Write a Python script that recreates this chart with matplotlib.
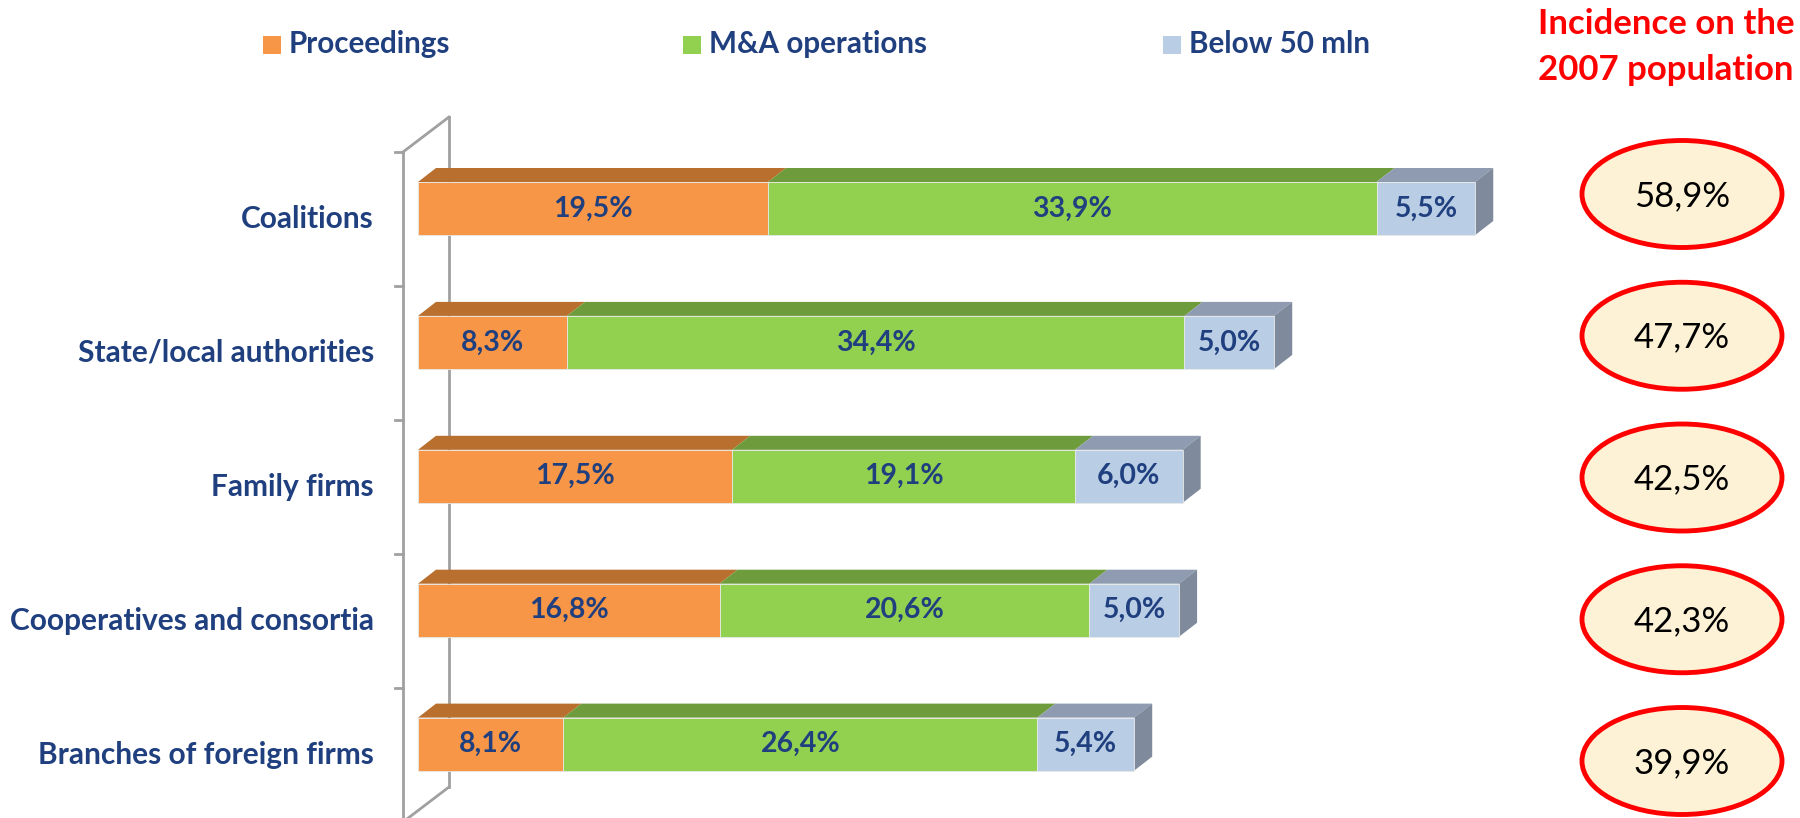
import matplotlib.pyplot as plt
from matplotlib.patches import Polygon, Ellipse, Rectangle
import numpy as np

plt.rcParams['font.family'] = ['Lato', 'DejaVu Sans']

categories = ["Coalitions", "State/local authorities", "Family firms",
              "Cooperatives and consortia", "Branches of foreign firms"]
series_names = ["Proceedings", "M&A operations", "Below 50 mln"]
proceedings = [19.5, 8.3, 17.5, 16.8, 8.1]
ma_operations = [33.9, 34.4, 19.1, 20.6, 26.4]
below_50 = [5.5, 5.0, 6.0, 5.0, 5.4]
incidence = [58.9, 47.7, 42.5, 42.3, 39.9]

front_cols = ["#F79646", "#92D050", "#B9CDE5"]
top_cols = ["#B9702F", "#6E9C3C", "#8E9BB0"]
side_col = "#7F8A9C"
txt_blue = "#1F3F7F"
wall_col = "#A0A0A0"

# pixel layout helpers (figure is 1800x818 px)
S = 17.95   # px per percent
R = 133.9   # px per category
X0, Y0 = 418, 208.5

def px(x):
    return (x - X0) / S

def py(y):
    return (y - Y0) / R

fig = plt.figure(figsize=(18, 8.18), dpi=100)
ax = fig.add_axes([0, 0, 1, 1])
ax.set_xlim(px(0), px(1800))
ax.set_ylim(py(818), py(0))
ax.axis("off")

# back wall of the 3D chart
wx0, wx1 = px(403), px(449)
ax.plot([wx0, wx0], [py(152), py(830)], color=wall_col, lw=2, clip_on=False)
ax.plot([wx1, wx1], [py(117), py(787)], color=wall_col, lw=2)
ax.plot([wx0, wx1], [py(152), py(117)], color=wall_col, lw=2)
ax.plot([wx1, wx0], [py(787), py(822)], color=wall_col, lw=2)
for k in range(len(categories)):
    ty = py(152) + k
    ax.plot([px(395), wx0], [ty, ty], color=wall_col, lw=2)

data = np.array([proceedings, ma_operations, below_50])
bar_h = 53 / R
dx, dy = 18 / S, 14 / R

for i in range(len(categories)):
    left = 0
    top = i - bar_h / 2
    bot = i + bar_h / 2
    for s in range(3):
        v = data[s, i]
        right = left + v
        ax.barh(i, v, left=left, height=bar_h, color=front_cols[s],
                edgecolor="#E8E8E8", linewidth=0.6, zorder=3)
        ax.add_patch(Polygon([(left, top), (left + dx, top - dy),
                              (right + dx, top - dy), (right, top)],
                             closed=True, facecolor=top_cols[s],
                             edgecolor="none", zorder=2))
        ax.text(left + v / 2, i, f"{v:.1f}".replace(".", ",") + "%",
                ha="center", va="center", fontsize=20.5, fontweight="bold",
                color=txt_blue, zorder=4)
        left = right
    ax.add_patch(Polygon([(left, top), (left + dx, top - dy),
                          (left + dx, bot - dy), (left, bot)],
                         closed=True, facecolor=side_col,
                         edgecolor="none", zorder=2))
    ax.text(px(374), i + 10.5 / R, categories[i], ha="right", va="center",
            fontsize=21.5, fontweight="bold", color=txt_blue)

# incidence ellipses
ex = px(1682)
for i, val in enumerate(incidence):
    ey = py(194) + i * (py(761) - py(194)) / 4
    ax.add_patch(Ellipse((ex, ey), 200 / S, 107 / R, facecolor="#FDF2D5",
                         edgecolor="#FF0000", linewidth=3.5))
    ax.text(ex, ey + 2 / R, f"{val:.1f}".replace(".", ",") + "%",
            ha="center", va="center", fontsize=25, color="black")

ax.text(px(1666), py(47), "Incidence on the\n2007 population", ha="center",
        va="center", fontsize=25, fontweight="bold", color="#FF0000",
        linespacing=1.5)

# legend
leg_marks = [263, 683, 1163]
for s in range(3):
    ax.add_patch(Rectangle((px(leg_marks[s]), py(36)), 18 / S, 18 / R,
                           facecolor=front_cols[s], edgecolor="none"))
    ax.text(px(leg_marks[s] + 26), py(44), series_names[s], ha="left",
            va="center", fontsize=21.3, fontweight="bold", color=txt_blue)

fig.savefig("out.png", dpi=100)
